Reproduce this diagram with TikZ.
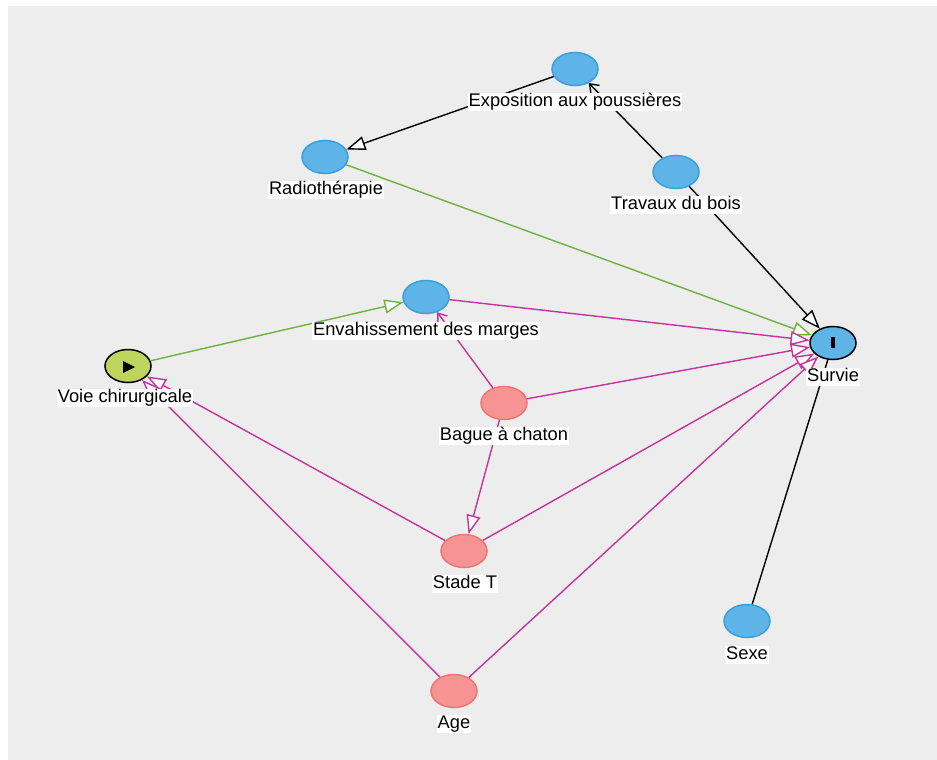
\documentclass[tikz,border=0pt]{standalone}
\usepackage{fontspec}
\setmainfont{Liberation Sans}
\usetikzlibrary{arrows.meta,shapes.geometric}
\definecolor{bgray}{HTML}{EDEDED}
\definecolor{nblue}{HTML}{5EB4E7}
\definecolor{nblueb}{HTML}{3A9FDB}
\definecolor{npink}{HTML}{F79393}
\definecolor{npinkb}{HTML}{EC7676}
\definecolor{nyel}{HTML}{BFD45D}
\definecolor{egreen}{HTML}{6CB33E}
\definecolor{emag}{HTML}{C5339C}
\tikzset{
  vnode/.style={ellipse, minimum width=46pt, minimum height=33pt, inner sep=0pt, line width=1.5pt},
  bluenode/.style={vnode, fill=nblue, draw=nblueb},
  pinknode/.style={vnode, fill=npink, draw=npinkb},
  expnode/.style={vnode, fill=nyel, draw=black},
  outnode/.style={vnode, fill=nblue, draw=black},
  lab/.style={fill=white, inner sep=1pt, font=\fontsize{18.3}{20}\selectfont, text height=12.5pt, text depth=3.5pt},
  edge/.style={line width=1.4pt},
  bigarr/.style={edge, -{Triangle[length=19pt,width=14pt,fill=white]}},
  thinarr/.style={edge, -{Straight Barb[length=8pt,width=12pt]}},
}
\begin{document}
\begin{tikzpicture}[x=1pt,y=-1pt]
\useasboundingbox (0,0) rectangle (937,760);
\fill[white] (-5,-5) rectangle (942,765);
\fill[bgray] (8,6) rectangle (942,765);
% nodes
\node[bluenode] (expo) at (575,69) {};
\node[bluenode] (radio) at (325,157) {};
\node[bluenode] (trav) at (676,172) {};
\node[bluenode] (envah) at (426,297) {};
\node[expnode] (voie) at (128,366) {};
\node[outnode] (surv) at (833,343) {};
\node[pinknode] (bague) at (504,403) {};
\node[pinknode] (stade) at (464,551) {};
\node[bluenode] (sexe) at (747,621) {};
\node[pinknode] (age) at (454,691) {};
% icons
\fill[black] (123,361) -- (135,367) -- (123,373) -- cycle;
\fill[black] (831,337) rectangle (835,348);
% edges
\draw[bigarr, black] (expo) -- (radio);
\draw[thinarr, black] (trav) -- (expo);
\draw[bigarr, black] (trav) -- (surv);
\draw[bigarr, egreen] (radio) -- (surv);
\draw[bigarr, egreen] (voie) -- (envah);
\draw[bigarr, emag] (envah) -- (surv);
\draw[thinarr, emag] (bague) -- (envah);
\draw[bigarr, emag] (bague) -- (surv);
\draw[bigarr, emag] (bague) -- (stade);
\draw[bigarr, emag] (stade) -- (voie);
\draw[bigarr, emag] (stade) -- (surv);
\draw[bigarr, emag] (age) -- (voie);
\draw[bigarr, emag] (age) -- (surv);
\draw[edge, black] (sexe) -- (surv);
% labels
\node[lab] (expoL) at (575,102) {Exposition aux poussières};
\node[lab] (radioL) at (326,190) {Radiothérapie};
\node[lab] (travL) at (676,205) {Travaux du bois};
\node[lab] (envahL) at (426,331) {Envahissement des marges};
\node[lab] (voieL) at (125,398) {Voie chirurgicale};
\node[lab] (survL) at (833,377) {Survie};
\node[lab] (bagueL) at (504,436) {Bague à chaton};
\node[lab] (stadeL) at (465,584) {Stade T};
\node[lab] (sexeL) at (747,655) {Sexe};
\node[lab] (ageL) at (454,724) {Age};
\end{tikzpicture}
\end{document}
